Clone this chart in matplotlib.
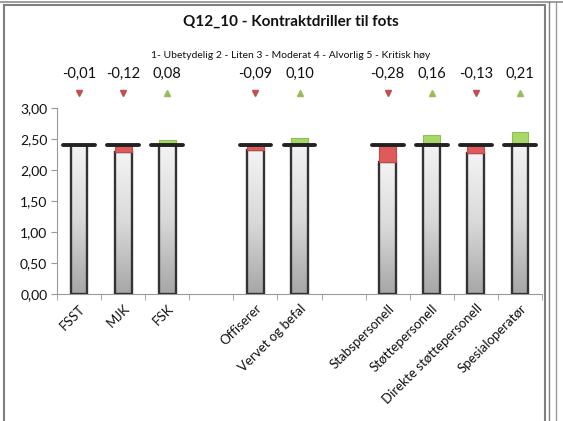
import matplotlib
matplotlib.use("Agg")
import matplotlib.pyplot as plt
import numpy as np
from matplotlib.patches import Rectangle
from matplotlib.lines import Line2D
from matplotlib.colors import LinearSegmentedColormap

categories = ["FSST", "MJK", "FSK", "", "Offiserer", "Vervet og befal", "",
              "Stabspersonell", "Støttepersonell", "Direkte støttepersonell", "Spesialoperatør"]
diffs = [-0.01, -0.12, 0.08, None, -0.09, 0.10, None, -0.28, 0.16, -0.13, 0.21]
diff_labels = ["-0,01", "-0,12", "0,08", "", "-0,09", "0,10", "", "-0,28", "0,16", "-0,13", "0,21"]
baseline = 2.41
yticks = [0.0, 0.5, 1.0, 1.5, 2.0, 2.5, 3.0]
ytick_labels = ["0,00", "0,50", "1,00", "1,50", "2,00", "2,50", "3,00"]

plt.rcParams['font.family'] = ['Lato', 'DejaVu Sans']

W, H = 563, 421
fig = plt.figure(figsize=(W / 100, H / 100), dpi=100)

# frames
fig.add_artist(Line2D([0, 1], [1 - 1.5 / H, 1 - 1.5 / H], color="#8c8c8c", lw=1.2))
fig.add_artist(Rectangle((4 / W, -0.01), (545 - 4) / W, (421 - 5) / H + 0.01, transform=fig.transFigure,
                         fill=False, ec="#7f7f7f", lw=1.5))
fig.add_artist(Line2D([549 / W, 549 / W], [0, 1 - 1.5 / H], color="#7f7f7f", lw=1.0))
fig.add_artist(Line2D([556 / W, 556 / W], [0, 1 - 1.5 / H], color="#9a9a9a", lw=1.0))

ax = fig.add_axes([57 / W, 1 - 294 / H, (542 - 57) / W, (294 - 108) / H])
n = len(categories)
ax.set_xlim(-0.5, n - 0.5)
ax.set_ylim(0, 3)

grad = np.linspace(0, 1, 256).reshape(-1, 1)
cmap = LinearSegmentedColormap.from_list("g", ["#a6a6a6", "#d9d9d9", "#f4f4f4"])

bw = 0.38
for i, d in enumerate(diffs):
    if d is None:
        continue
    val = baseline + d
    top = min(val, baseline)
    im = ax.imshow(grad, extent=[i - bw / 2, i + bw / 2, 0, top], origin="lower",
                   cmap=cmap, aspect="auto", zorder=2)
    r = Rectangle((i - bw / 2, 0), bw, top, fill=False, ec="#333333", lw=1.7, zorder=3)
    ax.add_patch(r)
    im.set_clip_path(r)
    if d < 0:
        ax.add_patch(Rectangle((i - bw / 2, val), bw, -d, fc="#e05a5a", ec="#c04a4a", lw=0.8, zorder=3))
    else:
        ax.add_patch(Rectangle((i - bw / 2, baseline), bw, d, fc="#a8d86a", ec="#8fbf4f", lw=0.8, zorder=3))
    ax.plot([i - 0.36, i + 0.36], [baseline, baseline], color="#222222", lw=2.8,
            solid_capstyle="round", zorder=4)
    up = d > 0
    ax.plot(i, 3.0 + 15 / 62.0, marker="^" if up else "v",
            color="#9bbb59" if up else "#c0504d", ms=4.5, clip_on=False, zorder=5)
    ax.text(i, 3.0 + 34 / 62.0, diff_labels[i], ha="center", va="center", fontsize=10.5,
            color="#111111")

ax.set_xticks(range(n))
ax.set_xticklabels(categories, rotation=45, ha="right", rotation_mode="anchor",
                   fontsize=9.5, color="#111111")
ax.tick_params(axis="x", length=0, pad=6)
ax.set_xticks(np.arange(-0.5, n, 1), minor=True)
ax.tick_params(axis="x", which="minor", length=4, color="#999999", direction="out")
ax.set_yticks(yticks)
ax.set_yticklabels(ytick_labels, fontsize=10, color="#111111")
ax.tick_params(axis="y", length=4, color="#999999", direction="out", pad=3)
for s in ["top", "right"]:
    ax.spines[s].set_visible(False)
for s in ["left", "bottom"]:
    ax.spines[s].set_color("#999999")
    ax.spines[s].set_linewidth(0.8)

fig.text(291 / W, 1 - 22 / H, "Q12_10 - Kontraktdriller til fots", ha="center", va="center",
         fontsize=11, fontweight="bold", color="#111111")
fig.text(291 / W, 1 - 56 / H, "1- Ubetydelig 2 - Liten 3 - Moderat 4 - Alvorlig 5 - Kritisk høy",
         ha="center", va="center", fontsize=7.5, color="#111111")

fig.savefig("out.png", dpi=100)
